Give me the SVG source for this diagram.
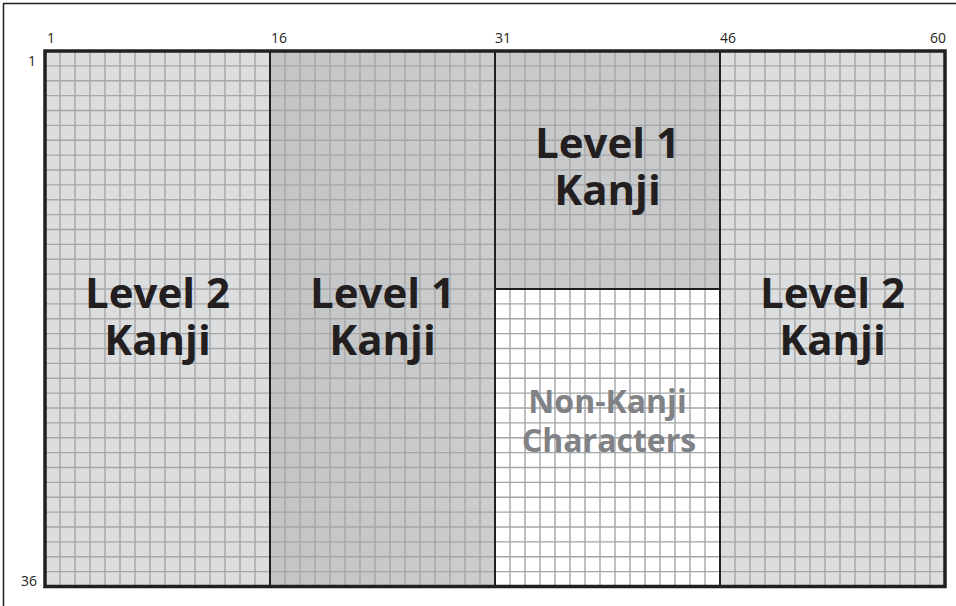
<svg xmlns="http://www.w3.org/2000/svg" width="956" height="606" viewBox="0 0 956 606">
<defs>
<linearGradient id="g2" x1="0" y1="0" x2="1" y2="0">
<stop offset="0" stop-color="#c3c4c6"/>
<stop offset="1" stop-color="#cccdcf"/>
</linearGradient>
</defs>
<style>
.l2{fill:#dcdddf}
.l1{fill:#c8c9cb}
.nk{fill:#ffffff}
.big{font-family:"Open Sans","Liberation Sans",sans-serif;font-weight:bold;font-size:42px;fill:#231f20;text-anchor:middle}
.gray{font-family:"Open Sans","Liberation Sans",sans-serif;font-weight:bold;font-size:32px;fill:#808285;text-anchor:middle}
.num{font-family:"Open Sans","Liberation Sans",sans-serif;font-size:14px;fill:#231f20}
.grid{fill:none;stroke:#a5a6a8;stroke-width:1.4}
.div{fill:none;stroke:#231f20;stroke-width:2}
</style>
<rect x="3.5" y="3.5" width="970" height="620" fill="#ffffff" stroke="#231f20" stroke-width="1.5"/>
<g id="col-1-15">
<rect class="l2" x="45" y="51" width="225" height="535.5"/>
</g>
<g id="col-16-30">
<rect x="270" y="51" width="225" height="535.5" fill="url(#g2)"/>
</g>
<g id="col-31-45-top">
<rect class="l1" x="495" y="51" width="225" height="238"/>
</g>
<g id="col-31-45-bottom">
<rect class="nk" x="495" y="289" width="225" height="297.5"/>
</g>
<g id="col-46-60">
<rect class="l2" x="720" y="51" width="225" height="535.5"/>
</g>
<path class="grid" d="M60 51v535.5M75 51v535.5M90 51v535.5M105 51v535.5M120 51v535.5M135 51v535.5M150 51v535.5M165 51v535.5M180 51v535.5M195 51v535.5M210 51v535.5M225 51v535.5M240 51v535.5M255 51v535.5M285 51v535.5M300 51v535.5M315 51v535.5M330 51v535.5M345 51v535.5M360 51v535.5M375 51v535.5M390 51v535.5M405 51v535.5M420 51v535.5M435 51v535.5M450 51v535.5M465 51v535.5M480 51v535.5M510 51v535.5M525 51v535.5M540 51v535.5M555 51v535.5M570 51v535.5M585 51v535.5M600 51v535.5M615 51v535.5M630 51v535.5M645 51v535.5M660 51v535.5M675 51v535.5M690 51v535.5M705 51v535.5M735 51v535.5M750 51v535.5M765 51v535.5M780 51v535.5M795 51v535.5M810 51v535.5M825 51v535.5M840 51v535.5M855 51v535.5M870 51v535.5M885 51v535.5M900 51v535.5M915 51v535.5M930 51v535.5M45 65.875h900M45 80.75h900M45 95.625h900M45 110.5h900M45 125.375h900M45 140.25h900M45 155.125h900M45 170h900M45 184.875h900M45 199.75h900M45 214.625h900M45 229.5h900M45 244.375h900M45 259.25h900M45 274.125h900M45 303.875h900M45 318.75h900M45 333.625h900M45 348.5h900M45 363.375h900M45 378.25h900M45 393.125h900M45 408h900M45 422.875h900M45 437.75h900M45 452.625h900M45 467.5h900M45 482.375h900M45 497.25h900M45 512.125h900M45 527h900M45 541.875h900M45 556.75h900M45 571.625h900M45 289h900"/>
<g id="connectors">
<path class="div" d="M270 51v535.5M495 51v535.5M720 51v535.5M495 289h225"/>
</g>
<rect x="45" y="51" width="900" height="535.5" fill="none" stroke="#231f20" stroke-width="3.5"/>
<g id="labels-1-15">
<text class="big" x="157.5" y="308">Level 2</text>
<text class="big" x="157.5" y="355">Kanji</text>
</g>
<g id="labels-16-30">
<text class="big" x="382.5" y="308">Level 1</text>
<text class="big" x="382.5" y="355">Kanji</text>
</g>
<g id="labels-31-45-top">
<text class="big" x="607.5" y="158">Level 1</text>
<text class="big" x="607.5" y="205">Kanji</text>
</g>
<g id="labels-31-45-bottom">
<text class="gray" x="607.5" y="413">Non-Kanji</text>
<text class="gray" x="609" y="452">Characters</text>
</g>
<g id="labels-46-60">
<text class="big" x="832.5" y="308">Level 2</text>
<text class="big" x="832.5" y="355">Kanji</text>
</g>
<g id="axis">
<text class="num" x="47" y="43">1</text>
<text class="num" x="271" y="43">16</text>
<text class="num" x="495" y="43">31</text>
<text class="num" x="720" y="43">46</text>
<text class="num" x="946" y="43" text-anchor="end">60</text>
<text class="num" x="36" y="66" text-anchor="end">1</text>
<text class="num" x="37" y="586" text-anchor="end">36</text>
</g>
</svg>
